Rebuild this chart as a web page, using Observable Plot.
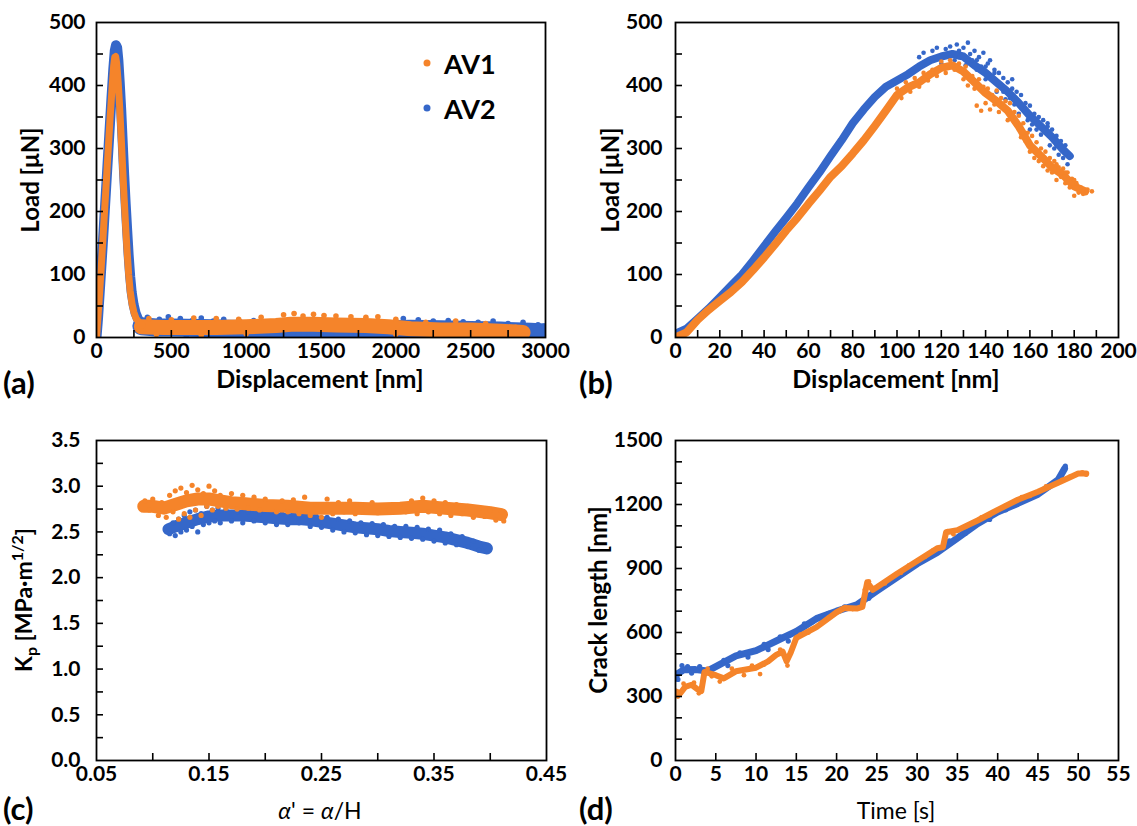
<!DOCTYPE html>
<html><head><meta charset="utf-8">
<script src="https://cdn.jsdelivr.net/npm/d3@7"></script>
<script src="https://cdn.jsdelivr.net/npm/@observablehq/plot@0.6"></script>
<style>
body{margin:0;background:#fff;font-family:Lato,"Open Sans",sans-serif;color:#000;}
#wrap{position:relative;width:1137px;height:826px;overflow:hidden;background:#fff;}
.p{position:absolute;}
.t{position:absolute;white-space:nowrap;color:#000;line-height:1;}
.bx{font-weight:bold;font-size:25px;transform:translate(-50%,-50%);}
.rx{font-weight:normal;font-size:23px;transform:translate(-50%,-50%);}
.by{font-weight:bold;font-size:24px;transform:translate(-50%,-50%) rotate(-90deg);}
.ry{font-weight:bold;font-size:23px;transform:translate(-50%,-50%) rotate(-90deg);}
.lt{font-weight:bold;font-size:31px;transform:translateY(-50%);}
.lg{font-weight:bold;font-size:27px;transform:translateY(-50%);}
.dot{position:absolute;width:7px;height:7px;border-radius:50%;transform:translate(-50%,-50%);}
</style></head>
<body><div id="wrap"></div>
<script>
// ---------- colours / series ----------
const seriesNames = ["AV1", "AV2"];
const colAV1 = "#F5842A";
const colAV2 = "#3567C9";

// ---------- tick labels ----------
const aXTicks = [0, 500, 1000, 1500, 2000, 2500, 3000];
const aYTicks = [0, 100, 200, 300, 400, 500];
const bXTicks = [0, 20, 40, 60, 80, 100, 120, 140, 160, 180, 200];
const bYTicks = [0, 100, 200, 300, 400, 500];
const cXTicks = [0.05, 0.15, 0.25, 0.35, 0.45];
const cYTicks = [0, 0.5, 1.0, 1.5, 2.0, 2.5, 3.0, 3.5];
const dXTicks = [0, 5, 10, 15, 20, 25, 30, 35, 40, 45, 50, 55];
const dYTicks = [0, 300, 600, 900, 1200, 1500];

// ---------- panel (a): Load vs displacement, full range ----------
const av2PeakA = [[0,0],[10,30],[25,85],[45,160],[65,240],[85,320],[100,380],[112,425],[122,455],[130,464],[138,460],[146,440],[155,405],[165,362],[175,310],[185,258],[195,212],[205,170],[215,130],[225,97],[235,72],[248,52],[262,38],[280,28],[300,22]];
const av2FlatA = [[300,18],[400,16],[500,16],[700,15],[900,14],[1100,13],[1300,12],[1500,12],[1700,12],[1900,13],[2100,14],[2300,13],[2500,12],[2700,11],[2900,9],[3000,8]];
const av2EdgeA = [[340,32],[420,29],[480,33],[560,30],[640,27],[700,31],[780,26],[850,29],[960,25],[1050,27],[1150,8],[1250,3],[1350,5],[1420,2],[1500,6],[1600,3],[1700,5],[1800,4],[2050,30],[2150,28],[2250,26],[2350,27],[2450,25],[2550,24],[2650,26],[2750,22],[2850,24],[2950,20],[2990,18],[600,1],[900,2],[2200,1],[2600,0],[2900,0]];
const av1PeakA = [[0,0],[15,50],[30,105],[50,185],[70,265],[90,345],[105,400],[115,432],[122,445],[128,446],[135,435],[145,405],[155,365],[165,318],[175,268],[185,220],[195,175],[205,135],[215,100],[225,74],[237,54],[250,40],[265,30],[285,24],[305,20]];
const av1FlatA = [[300,17],[450,16],[600,16],[800,16],[1000,17],[1200,19],[1300,21],[1450,21],[1600,20],[1800,19],[1950,17],[2100,14],[2300,12],[2500,12],[2700,10],[2850,8]];
const av1EdgeA = [[350,30],[500,28],[650,31],[800,30],[950,29],[1100,32],[1250,36],[1320,38],[1380,34],[1450,37],[1520,35],[1600,34],[1700,33],[1800,32],[1880,33],[2000,29],[2200,24],[2400,26],[2600,22],[2800,16],[400,5],[700,4],[1000,6],[2000,5],[2300,3],[2600,2],[2850,3]];

// ---------- panel (b): Load vs displacement, zoom ----------
const av2CoreB = [[0,6],[5,14],[10,30],[15,46],[20,64],[25,82],[30,100],[35,122],[40,145],[45,168],[50,190],[55,213],[60,238],[65,262],[70,288],[75,313],[80,340],[85,362],[90,382],[95,398],[100,408],[105,418],[110,430],[115,440],[120,446],[125,450],[130,446],[135,432],[140,420],[145,405],[150,390],[155,372],[160,352],[165,335],[170,318],[175,298],[178,288]];
const av2DotsB = [[110,445],[112,452],[114,438],[116,455],[118,460],[120,435],[122,458],[124,462],[126,440],[127,465],[128,455],[130,460],[131,432],[132,468],[133,450],[134,440],[135,455],[136,425],[137,445],[138,430],[139,452],[140,410],[141,435],[142,440],[143,415],[144,425],[145,390],[146,420],[147,400],[148,412],[149,378],[150,405],[151,380],[152,395],[153,370],[154,390],[155,355],[156,385],[157,362],[158,372],[159,345],[160,368],[161,338],[162,355],[163,330],[164,350],[165,322],[166,345],[167,325],[168,335],[169,305],[170,330],[171,300],[172,320],[173,290],[174,312],[175,285],[176,305],[177,275],[178,290],[176,292],[172,305],[168,340],[164,340],[160,330],[156,365],[152,410],[148,390],[144,420],[140,430],[136,440],[132,440],[128,445]];
const av1CoreB = [[0,0],[5,8],[10,28],[15,44],[20,58],[25,72],[30,88],[35,107],[40,127],[45,148],[50,170],[55,190],[60,212],[65,233],[70,255],[75,272],[80,292],[85,313],[90,336],[95,360],[100,385],[105,397],[110,405],[115,418],[120,428],[125,432],[130,422],[135,405],[140,388],[145,375],[150,360],[155,335],[160,305],[165,288],[170,270],[175,258],[180,240],[185,232]];
const av1DotsB = [[100,395],[102,380],[104,405],[106,390],[108,412],[110,398],[112,420],[114,408],[116,425],[118,415],[120,438],[122,420],[124,440],[126,425],[128,435],[130,410],[131,430],[132,400],[134,415],[135,395],[136,368],[137,410],[138,360],[139,398],[140,372],[141,395],[142,362],[143,385],[144,370],[145,392],[146,358],[147,380],[148,365],[149,375],[150,345],[151,372],[152,350],[153,358],[154,338],[155,352],[156,318],[157,340],[158,312],[159,325],[160,295],[161,320],[162,285],[163,310],[164,280],[165,300],[166,272],[167,295],[168,265],[169,285],[170,262],[171,280],[172,250],[173,270],[174,255],[175,268],[176,245],[177,262],[178,238],[179,252],[180,225],[181,245],[182,230],[183,238],[184,228],[186,235],[188,232],[180,250],[176,262],[172,275]];

// ---------- panel (c): Kp vs alpha' ----------
const av1CoreC = [[0.092,2.78],[0.1,2.78],[0.11,2.76],[0.12,2.80],[0.13,2.84],[0.14,2.86],[0.15,2.86],[0.16,2.84],[0.17,2.82],[0.18,2.81],[0.2,2.79],[0.22,2.78],[0.24,2.76],[0.26,2.76],[0.28,2.76],[0.30,2.75],[0.32,2.76],[0.34,2.78],[0.36,2.76],[0.38,2.74],[0.40,2.71],[0.41,2.69]];
const av1DotsC = [[0.093,2.84],[0.097,2.74],[0.10,2.86],[0.105,2.68],[0.108,2.82],[0.112,2.66],[0.115,2.90],[0.118,2.72],[0.12,2.95],[0.123,2.64],[0.125,2.98],[0.128,2.70],[0.13,2.93],[0.133,2.66],[0.135,3.01],[0.138,2.74],[0.14,2.96],[0.143,2.68],[0.145,2.92],[0.148,2.78],[0.15,3.00],[0.153,2.74],[0.155,2.95],[0.158,2.78],[0.16,2.90],[0.165,2.76],[0.17,2.92],[0.175,2.75],[0.18,2.90],[0.185,2.76],[0.19,2.88],[0.195,2.74],[0.2,2.86],[0.21,2.72],[0.215,2.84],[0.22,2.72],[0.225,2.85],[0.23,2.70],[0.235,2.88],[0.24,2.68],[0.245,2.80],[0.25,2.66],[0.255,2.86],[0.26,2.70],[0.265,2.82],[0.27,2.72],[0.275,2.84],[0.28,2.70],[0.285,2.80],[0.29,2.72],[0.295,2.82],[0.30,2.71],[0.305,2.78],[0.31,2.74],[0.32,2.80],[0.325,2.72],[0.33,2.84],[0.335,2.70],[0.34,2.87],[0.345,2.72],[0.35,2.84],[0.355,2.70],[0.36,2.82],[0.365,2.68],[0.37,2.80],[0.375,2.70],[0.38,2.78],[0.385,2.66],[0.39,2.76],[0.395,2.67],[0.40,2.74],[0.405,2.63],[0.41,2.72],[0.412,2.62]];
const av2CoreC = [[0.114,2.53],[0.12,2.56],[0.13,2.60],[0.14,2.64],[0.15,2.67],[0.16,2.68],[0.17,2.68],[0.18,2.68],[0.19,2.67],[0.20,2.66],[0.21,2.65],[0.22,2.64],[0.23,2.64],[0.24,2.63],[0.25,2.61],[0.26,2.59],[0.27,2.57],[0.28,2.55],[0.29,2.54],[0.30,2.53],[0.31,2.51],[0.32,2.50],[0.33,2.49],[0.34,2.48],[0.35,2.46],[0.36,2.44],[0.37,2.41],[0.38,2.38],[0.39,2.34],[0.397,2.32]];
const av2DotsC = [[0.115,2.48],[0.118,2.60],[0.12,2.46],[0.123,2.64],[0.125,2.50],[0.128,2.68],[0.13,2.52],[0.133,2.72],[0.135,2.56],[0.138,2.74],[0.14,2.50],[0.143,2.70],[0.145,2.58],[0.148,2.78],[0.15,2.60],[0.153,2.74],[0.155,2.62],[0.158,2.76],[0.16,2.60],[0.165,2.74],[0.17,2.62],[0.175,2.72],[0.18,2.60],[0.185,2.72],[0.19,2.62],[0.195,2.70],[0.2,2.60],[0.205,2.72],[0.21,2.58],[0.215,2.70],[0.22,2.58],[0.225,2.70],[0.23,2.60],[0.235,2.72],[0.24,2.56],[0.245,2.68],[0.25,2.55],[0.255,2.66],[0.26,2.52],[0.265,2.64],[0.27,2.50],[0.275,2.62],[0.28,2.49],[0.285,2.60],[0.29,2.47],[0.295,2.59],[0.30,2.46],[0.305,2.58],[0.31,2.45],[0.315,2.56],[0.32,2.44],[0.325,2.56],[0.33,2.43],[0.335,2.55],[0.34,2.42],[0.345,2.53],[0.35,2.40],[0.355,2.52],[0.36,2.38],[0.365,2.48],[0.37,2.36],[0.375,2.45],[0.38,2.34],[0.385,2.40],[0.39,2.30],[0.395,2.34]];

// ---------- panel (d): crack length vs time ----------
const av2CoreD = [[0,400],[1,425],[2.5,426],[4,420],[5,440],[7.5,490],[10,515],[12.5,560],[15,605],[17.5,665],[20,700],[22.5,730],[25,795],[27.5,858],[30,922],[32.5,975],[35,1042],[37.5,1110],[40,1165],[42.5,1205],[45,1248],[47.5,1315],[48.3,1368]];
const av2DotsD = [[0.3,380],[0.8,445],[1.5,440],[2,410],[3,440],[3.5,405],[6,470],[6.5,445],[8,505],[9,485],[11,545],[11.5,520],[13,580],[14,560],[16,640],[17,650],[18,675],[19,690],[21,720],[23,725],[24,760],[26,820],[28,880],[29,900],[31,950],[33,990],[34,1030],[36,1065],[38,1120],[39,1130],[41,1175],[43,1220],[44,1230],[46,1275],[47,1300],[48,1350],[48.4,1380]];
const av1CoreD = [[0,324],[0.6,315],[1.2,345],[2,355],[2.7,335],[3.2,325],[3.6,415],[5,400],[6,385],[7.5,418],[10,435],[11.5,465],[12.5,495],[13.3,510],[13.8,465],[14.3,505],[15,575],[17.5,625],[20,695],[21,715],[22.5,712],[23.2,720],[23.8,835],[24.5,800],[25,812],[27.5,875],[30,935],[32.5,995],[33.2,1000],[33.6,1070],[35,1080],[37.5,1125],[40,1175],[42.5,1222],[45,1260],[47.5,1302],[50,1345],[51,1345]];
const av1DotsD = [[0.3,300],[1,360],[2.3,365],[2.9,315],[4,430],[4.5,395],[5.5,370],[7,430],[8.5,400],[9.5,445],[10.5,405],[11,450],[12,480],[13,520],[13.9,445],[15.5,590],[16.5,600],[18,640],[19,670],[20.5,705],[22,710],[23.5,800],[24,840],[26,830],[28,880],[29,915],[31,955],[32,985],[33.8,1075],[34.5,1060],[36,1095],[38,1140],[39,1150],[41,1195],[43,1235],[44,1240],[46,1285],[48,1315],[49,1330],[50.5,1350],[51,1340]];

// ---------- drawing ----------
const wrap = document.getElementById("wrap");
const FONT = "Lato, 'Open Sans', sans-serif";

function line(data, color, w) {
  return Plot.line(data, {x: d => d[0], y: d => d[1], stroke: color, strokeWidth: w, strokeLinecap: "round", strokeLinejoin: "round", clip: true});
}
function dots(data, color, r) {
  return Plot.dot(data, {x: d => d[0], y: d => d[1], fill: color, r: r, clip: true});
}

function panel(o) {
  const svg = Plot.plot({
    width: o.w, height: o.h,
    marginLeft: o.ml, marginRight: o.mr, marginTop: o.mt, marginBottom: o.mb,
    x: {domain: o.xd, label: null},
    y: {domain: o.yd, label: null},
    style: {fontFamily: FONT, fontSize: "21px", fontWeight: "bold", color: "#000", background: "transparent", overflow: "visible"},
    marks: [
      ...o.marks,
      Plot.axisX({ticks: o.xt, tickSize: 0, tickPadding: 6, tickFormat: o.xf, label: null, fill: "#000"}),
      Plot.axisX({ticks: o.xm, tickSize: -7, tickFormat: () => "", label: null, stroke: "#000", strokeWidth: 1.6}),
      Plot.axisY({ticks: o.yt, tickSize: 0, tickPadding: o.yp, tickFormat: o.yf, label: null, fill: "#000"}),
      Plot.axisY({ticks: o.ym, tickSize: -7, tickFormat: () => "", label: null, stroke: "#000", strokeWidth: 1.6}),
      Plot.frame({stroke: "#000", strokeWidth: 1.8})
    ]
  });
  const div = document.createElement("div");
  div.className = "p";
  div.style.left = o.left + "px";
  div.style.top = o.top + "px";
  div.appendChild(svg);
  wrap.appendChild(div);
}

const plain = d => String(d);

panel({left: 0, top: 0, w: 570, h: 375, ml: 96, mr: 25, mt: 22, mb: 38, yp: 11,
  xd: [0, 3000], yd: [0, 500], xt: aXTicks, yt: aYTicks, xf: plain, yf: plain,
  xm: d3.range(250, 3000, 250), ym: d3.range(50, 500, 50),
  marks: [
    line(av2FlatA, colAV2, 18), dots(av2EdgeA, colAV2, 2.8), line(av2PeakA, colAV2, 10),
    line(av1FlatA, colAV1, 15), dots(av1EdgeA, colAV1, 2.8), line(av1PeakA, colAV1, 7)
  ]});

panel({left: 570, top: 0, w: 567, h: 375, ml: 105, mr: 19, mt: 22, mb: 38, yp: 13,
  xd: [0, 200], yd: [0, 500], xt: bXTicks, yt: bYTicks, xf: plain, yf: plain,
  xm: d3.range(10, 200, 10), ym: d3.range(50, 500, 50),
  marks: [
    line(av2CoreB, colAV2, 8), dots(av2DotsB, colAV2, 2.3),
    line(av1CoreB, colAV1, 8), dots(av1DotsB, colAV1, 2.3)
  ]});

panel({left: 0, top: 400, w: 570, h: 400, ml: 96, mr: 24, mt: 40, mb: 40, yp: 16,
  xd: [0.05, 0.45], yd: [0, 3.5], xt: cXTicks, yt: cYTicks, xf: d => d.toFixed(2), yf: d => d.toFixed(1),
  xm: d3.range(1, 8).map(i => 0.05 + i * 0.05), ym: d3.range(1, 14).map(i => i * 0.25),
  marks: [
    line(av2CoreC, colAV2, 12), dots(av2DotsC, colAV2, 2.6),
    line(av1CoreC, colAV1, 13), dots(av1DotsC, colAV1, 2.6)
  ]});

panel({left: 570, top: 400, w: 567, h: 400, ml: 105, mr: 19, mt: 40, mb: 40, yp: 13,
  xd: [0, 55], yd: [0, 1500], xt: dXTicks, yt: dYTicks, xf: plain, yf: plain,
  xm: d3.range(5, 55, 5), ym: d3.range(100, 1500, 100),
  marks: [
    line(av2CoreD, colAV2, 7), dots(av2DotsD, colAV2, 2.6),
    line(av1CoreD, colAV1, 6), dots(av1DotsD, colAV1, 2.4)
  ]});

// ---------- text overlays ----------
function txt(cls, x, y, html) {
  const e = document.createElement("div");
  e.className = "t " + cls;
  e.style.left = x + "px";
  e.style.top = y + "px";
  e.innerHTML = html;
  wrap.appendChild(e);
}
txt("bx", 320, 378, "Displacement [nm]");
txt("bx", 896, 378, "Displacement [nm]");
txt("rx", 320, 810, "<i>α</i>' = <i>α</i>/H");
txt("rx", 896, 810, "Time [s]");
txt("by", 30, 180, "Load [μN]");
txt("by", 610, 180, "Load [μN]");
txt("ry", 24, 600, "K<sub style='font-size:16px'>p</sub> [MPa·m<sup style='font-size:16px'>1/2</sup>]");
txt("by", 598, 600, "Crack length [nm]");
txt("lt", 3, 382, "(a)");
txt("lt", 579, 382, "(b)");
txt("lt", 3, 808, "(c)");
txt("lt", 579, 808, "(d)");
// legend
function legendItem(y, color, name) {
  const d = document.createElement("div");
  d.className = "dot";
  d.style.left = "427px"; d.style.top = y + "px"; d.style.background = color;
  wrap.appendChild(d);
  txt("lg", 444, y, name);
}
legendItem(63, colAV1, seriesNames[0]);
legendItem(108, colAV2, seriesNames[1]);
</script>
</body></html>
